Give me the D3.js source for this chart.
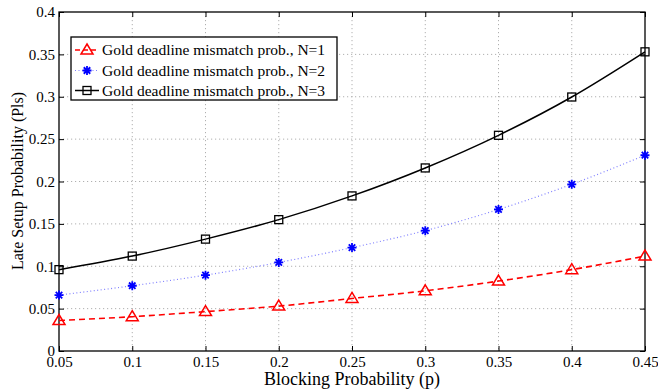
<!DOCTYPE html>
<html>
<head>
<meta charset="utf-8">
<title>late setup probability</title>
<script src="https://cdn.jsdelivr.net/npm/d3@7"></script>
<style>
  body { margin: 0; background: #fff; }
  svg { display: block; font-family: "Liberation Serif", "Times New Roman", serif; }
  .grid line { stroke: #b0b0b0; stroke-dasharray: 1.2 2.8; stroke-width: 1; }
  .tick text { font-size: 15px; fill: #000; }
</style>
</head>
<body>
<svg width="658" height="392"></svg>
<script>
// blocking probability p
var pValues = [0.05, 0.1, 0.15, 0.2, 0.25, 0.3, 0.35, 0.4, 0.45];
// gold deadline mismatch probability for N = 1, 2, 3
var mismatchN1 = [0.036, 0.0405, 0.0465, 0.053, 0.062, 0.071, 0.0825, 0.096, 0.112];
var mismatchN2 = [0.066, 0.077, 0.0895, 0.1045, 0.122, 0.142, 0.167, 0.1967, 0.231];
var mismatchN3 = [0.096, 0.112, 0.132, 0.155, 0.183, 0.216, 0.2545, 0.2997, 0.353];
var xTicks = [0.05, 0.1, 0.15, 0.2, 0.25, 0.3, 0.35, 0.4, 0.45];
var yTicks = [0, 0.05, 0.1, 0.15, 0.2, 0.25, 0.3, 0.35, 0.4];
var seriesNames = ["Gold deadline mismatch prob., N=1",
                   "Gold deadline mismatch prob., N=2",
                   "Gold deadline mismatch prob., N=3"];

var svg = d3.select("svg");
var L = 59, R = 645, T = 12, B = 351;
var serif = "Liberation Serif, Times New Roman, serif";

var x = d3.scaleLinear().domain([0.05, 0.45]).range([L, R]);
var y = d3.scaleLinear().domain([0, 0.4]).range([B, T]);

// dotted grid
var grid = svg.append("g").attr("class", "grid");
grid.selectAll("line.v").data(xTicks.slice(1, -1)).enter().append("line")
  .attr("x1", d => x(d)).attr("x2", d => x(d)).attr("y1", T).attr("y2", B);
grid.selectAll("line.h").data(yTicks.slice(1, -1)).enter().append("line")
  .attr("x1", L).attr("x2", R).attr("y1", d => y(d)).attr("y2", d => y(d));

// axes, ticks point inward on all four sides
function fmt(d) { return d3.format("")(+d.toFixed(2)); }
var ax = svg.append("g").attr("transform", "translate(0," + B + ")")
  .call(d3.axisBottom(x).tickValues(xTicks).tickSize(-5).tickPadding(8).tickFormat(fmt));
var ay = svg.append("g").attr("transform", "translate(" + L + ",0)")
  .call(d3.axisLeft(y).tickValues(yTicks).tickSize(-5).tickPadding(4).tickFormat(fmt));
var axT = svg.append("g").attr("transform", "translate(0," + T + ")")
  .call(d3.axisTop(x).tickValues(xTicks).tickSize(-5).tickFormat(""));
var ayR = svg.append("g").attr("transform", "translate(" + R + ",0)")
  .call(d3.axisRight(y).tickValues(yTicks).tickSize(-5).tickFormat(""));
[ax, ay, axT, ayR].forEach(function (g) {
  g.attr("font-family", serif);
  g.select(".domain").remove();
  g.selectAll(".tick line").attr("stroke", "#000");
});
ax.selectAll(".tick text").attr("dy", "0.55em");

svg.append("rect").attr("x", L).attr("y", T).attr("width", R - L).attr("height", B - T)
  .attr("fill", "none").attr("stroke", "#000").attr("stroke-width", 1.3);

// marker drawers
function triangle(g, cx, cy) {
  g.append("path")
    .attr("d", "M" + cx + "," + (cy - 6) + "L" + (cx + 6) + "," + (cy + 4) + "L" + (cx - 6) + "," + (cy + 4) + "Z")
    .attr("fill", "none").attr("stroke", "#ff0000").attr("stroke-width", 1.5);
}
function star(g, cx, cy) {
  var r = 4.5, q = r * 0.72;
  var p = "M" + (cx - r) + "," + cy + "h" + 2 * r +
          "M" + cx + "," + (cy - r) + "v" + 2 * r +
          "M" + (cx - q) + "," + (cy - q) + "l" + 2 * q + "," + 2 * q +
          "M" + (cx - q) + "," + (cy + q) + "l" + 2 * q + "," + -2 * q;
  g.append("path").attr("d", p).attr("stroke", "#0000ff").attr("stroke-width", 1.8);
}
function square(g, cx, cy) {
  g.append("rect").attr("x", cx - 4).attr("y", cy - 4).attr("width", 8).attr("height", 8)
    .attr("fill", "none").attr("stroke", "#000").attr("stroke-width", 1.3);
}

var series = [
  { values: mismatchN1, color: "#ff0000", width: 1.6, dash: "6 4", marker: triangle },
  { values: mismatchN2, color: "#8080ff", width: 1.2, dash: "1 2.5", marker: star },
  { values: mismatchN3, color: "#000000", width: 1.5, dash: null, marker: square }
];

var line = d3.line().curve(d3.curveMonotoneX).x((d, i) => x(pValues[i])).y(d => y(d));

series.forEach(function (s) {
  svg.append("path").datum(s.values).attr("d", line)
    .attr("fill", "none").attr("stroke", s.color).attr("stroke-width", s.width)
    .attr("stroke-dasharray", s.dash);
  var g = svg.append("g");
  s.values.forEach(function (v, i) { s.marker(g, x(pValues[i]), y(v)); });
});

// legend
var lg = svg.append("g");
lg.append("rect").attr("x", 71).attr("y", 37).attr("width", 266).attr("height", 63)
  .attr("fill", "#fff").attr("stroke", "#000").attr("stroke-width", 1.3);
var rowY = [50, 70.5, 90.5];
series.forEach(function (s, i) {
  lg.append("line").attr("x1", 75).attr("x2", 99).attr("y1", rowY[i]).attr("y2", rowY[i])
    .attr("stroke", s.color).attr("stroke-width", s.width)
    .attr("stroke-dasharray", i === 0 ? "5 3" : s.dash);
  s.marker(lg, 87, rowY[i]);
  lg.append("text").attr("x", 102).attr("y", rowY[i]).attr("dy", "0.35em")
    .attr("font-size", 15.5).text(seriesNames[i]);
});

// axis titles
svg.append("text").attr("x", 352).attr("y", 385).attr("text-anchor", "middle")
  .attr("font-size", 18).text("Blocking Probability (p)");
svg.append("text").attr("transform", "translate(23,181) rotate(-90)")
  .attr("text-anchor", "middle").attr("font-size", 16).text("Late Setup Probability (Pls)");
</script>
</body>
</html>
